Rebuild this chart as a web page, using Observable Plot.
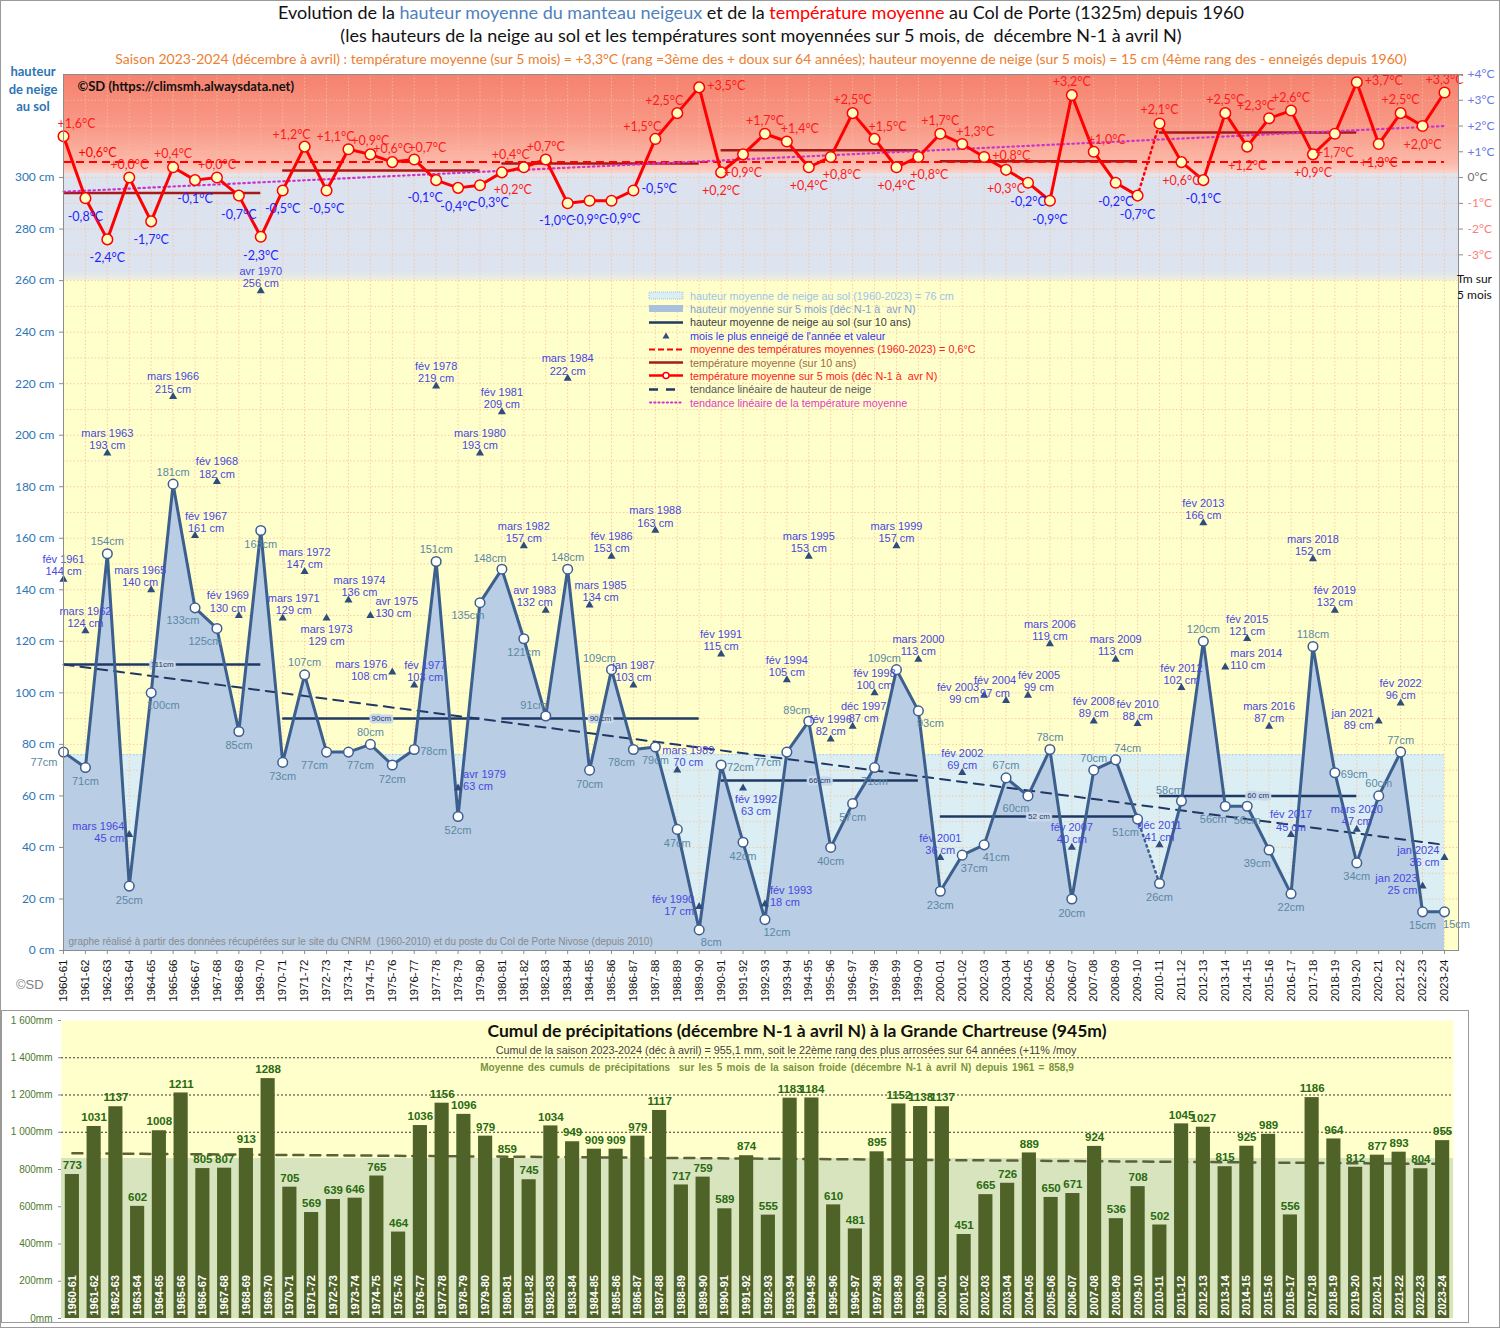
<!DOCTYPE html>
<html><head><meta charset="utf-8">
<script src="https://cdn.jsdelivr.net/npm/d3@7"></script>
<script src="https://cdn.jsdelivr.net/npm/@observablehq/plot@0.6"></script>
<style>
html,body{margin:0;padding:0;background:#fff;overflow:hidden;}
#page{position:relative;width:1500px;height:1328px;overflow:hidden;font-family:"Liberation Sans",Arial,sans-serif;}
.abs{position:absolute;white-space:nowrap;}
.ctr{text-align:center;}
.lato{font-family:Lato,"Open Sans",sans-serif;}
#legend .row{position:absolute;left:0;height:13px;display:flex;align-items:center;font-size:10.8px;}
#legend svg{display:block;margin-right:4px;}
</style></head>
<body><div id="page">
<div class="abs" id="plot1" style="left:0;top:70px;"></div>
<div class="abs" id="plot2" style="left:0;top:1010px;"></div>

<div class="abs" style="left:0;top:0;width:1498px;height:1326px;border:1px solid #9a9a9a;"></div>
<div class="abs" style="left:1px;top:1010px;width:1466px;height:311px;border:1px solid #9a9a9a;"></div>

<div class="abs ctr lato" style="left:22px;width:1478px;top:1px;font-size:18px;color:#111;">Evolution de la <span style="color:#4f81bd">hauteur moyenne du manteau neigeux</span> et de la <span style="color:#ff0000">température moyenne</span> au Col de Porte (1325m) depuis 1960</div>
<div class="abs ctr lato" style="left:22px;width:1478px;top:24px;font-size:18px;color:#111;">(les hauteurs de la neige au sol et les températures sont moyennées sur 5 mois, de&nbsp; décembre N-1 à avril N)</div>
<div class="abs ctr lato" style="left:22px;width:1478px;top:50px;font-size:14px;color:#ed7d31;">Saison 2023-2024 (décembre à avril) : température moyenne (sur 5 mois) = +3,3°C (rang =3ème des + doux sur 64 années); hauteur moyenne de neige (sur 5 mois) = 15 cm (4ème rang des - enneigés depuis 1960)</div>

<div class="abs ctr lato" style="left:0;width:66px;top:63px;font-size:13px;font-weight:bold;color:#2e75b6;line-height:17.5px;">hauteur<br>de neige<br>au sol</div>
<div class="abs lato" style="left:1457px;top:271px;font-size:12px;color:#111;line-height:16px;">Tm sur<br>5 mois</div>
<div class="abs" style="left:16px;top:977px;font-size:13px;color:#7f7f7f;">©SD</div>

<div class="abs" id="legend" style="left:648px;top:289px;width:350px;height:120px;"></div>

<div class="abs ctr lato" style="left:297px;width:1000px;top:1020px;font-size:17.5px;font-weight:bold;color:#111;">Cumul de précipitations (décembre N-1 à avril N) à la Grande Chartreuse (945m)</div>
<div class="abs ctr" style="left:286px;width:1000px;top:1044px;font-size:10.8px;color:#404040;">Cumul de la saison 2023-2024 (déc à avril) = 955,1 mm, soit le 22ème rang des plus arrosées sur 64 années (+11% /moy</div>
<div class="abs ctr" style="left:277px;width:1000px;top:1062px;font-size:10px;font-weight:bold;color:#77933c;word-spacing:1.5px;">Moyenne des cumuls de précipitations&nbsp; sur les 5 mois de la saison froide (décembre N-1 à avril N) depuis 1961 = 858,9</div>
</div>

<script>
// ---------------- DATA ----------------
const seasons = ["1960-61","1961-62","1962-63","1963-64","1964-65","1965-66","1966-67","1967-68","1968-69","1969-70",
"1970-71","1971-72","1972-73","1973-74","1974-75","1975-76","1976-77","1977-78","1978-79","1979-80",
"1980-81","1981-82","1982-83","1983-84","1984-85","1985-86","1986-87","1987-88","1988-89","1989-90",
"1990-91","1991-92","1992-93","1993-94","1994-95","1995-96","1996-97","1997-98","1998-99","1999-00",
"2000-01","2001-02","2002-03","2003-04","2004-05","2005-06","2006-07","2007-08","2008-09","2009-10",
"2010-11","2011-12","2012-13","2013-14","2014-15","2015-16","2016-17","2017-18","2018-19","2019-20",
"2020-21","2021-22","2022-23","2023-24"];

// mean snow depth over 5 months (cm)
const snowMean = [77,71,154,25,100,181,133,125,85,163,
73,107,77,77,80,72,78,151,52,135,
148,121,91,148,70,109,78,79,47,8,
72,42,12,77,89,40,57,71,109,93,
23,37,41,67,60,78,20,70,74,51,
26,58,120,56,56,39,22,118,69,34,
60,77,15,15];

// mean temperature over 5 months (°C)
const tempMean = [1.6,-0.8,-2.4,0.0,-1.7,0.4,-0.1,0.0,-0.7,-2.3,
-0.5,1.2,-0.5,1.1,0.9,0.6,0.7,-0.1,-0.4,-0.3,
0.2,0.4,0.7,-1.0,-0.9,-0.9,-0.5,1.5,2.5,3.5,
0.2,0.9,1.7,1.4,0.4,0.8,2.5,1.5,0.4,0.8,
1.7,1.3,0.8,0.3,-0.2,-0.9,3.2,1.0,-0.2,-0.7,
2.1,0.6,-0.1,2.5,1.2,2.3,2.6,0.9,1.7,3.7,
1.3,2.5,2.0,3.3];

// snowiest month of each season and its value (cm)
const maxMonth = ["fév 1961","mars 1962","mars 1963","mars 1964","mars 1965","mars 1966","fév 1967","fév 1968","fév 1969","avr 1970",
"mars 1971","mars 1972","mars 1973","mars 1974","avr 1975","mars 1976","fév 1977","fév 1978","avr 1979","mars 1980",
"fév 1981","mars 1982","avr 1983","mars 1984","mars 1985","fév 1986","jan 1987","mars 1988","mars 1989","fév 1990",
"fév 1991","fév 1992","fév 1993","fév 1994","mars 1995","fév 1996","déc 1997","fév 1998","mars 1999","mars 2000",
"fév 2001","fév 2002","fév 2003","fév 2004","fév 2005","mars 2006","fév 2007","fév 2008","mars 2009","fév 2010",
"déc 2011","fév 2012","fév 2013","mars 2014","fév 2015","mars 2016","fév 2017","mars 2018","fév 2019","mars 2020",
"jan 2021","fév 2022","jan 2023","jan 2024"];
const maxSnow = [144,124,193,45,140,215,161,182,130,256,
129,147,129,136,130,108,103,219,63,193,
209,157,132,222,134,153,103,163,70,17,
115,63,18,105,153,82,87,100,157,113,
36,69,99,97,99,119,40,89,113,88,
41,102,166,110,121,87,45,152,132,47,
89,96,25,36];

// precipitation totals Dec-Apr (mm)
const precip = [773,1031,1137,602,1008,1211,805,807,913,1288,
705,569,639,646,765,464,1036,1156,1096,979,
859,745,1034,949,909,909,979,1117,717,759,
589,874,555,1183,1184,610,481,895,1152,1138,
1137,451,665,726,889,650,671,924,536,708,
502,1045,1027,815,925,989,556,1186,964,812,
877,893,804,955];

// decade means
const decadeFirst = ["1960-61","1970-71","1980-81","1990-91","2000-01","2010-11"];
const decadeLast  = ["1969-70","1979-80","1989-90","1999-00","2009-10","2019-20"];
const snowDecade = [111,90,90,66,52,60];
const snowDecadeLabel = ["111cm","90cm","90 cm","66 cm","52 cm","60 cm"];
const tempDecade = [-0.6,0.27,0.55,1.06,0.63,1.75];

// reference values
const meanSnow = 76;
const meanTemp = 0.6;
const meanPrecip = 858.9;
const snowTrendEnds = [111, 41];
const tempTrendEnds = [-0.55, 2.0];
const precipTrendEnds = [887, 830];

// axis ticks
const snowTicks = d3.range(0, 301, 20);
const tempTicksPos = [1, 2, 3, 4];
const tempTicksZero = [0];
const tempTicksNeg = [-1, -2, -3];
const precipTicks = [0,200,400,600,800,1000,1200,1400,1600];
const gridCm = d3.range(0, 341, 10);

// ---------------- LABEL PLACEMENT (layout, one code per season) ----------------
// a above, b below, L/R above-left/right, K/B below-left/right, l/r to the left/right
const tempPlace = ("Rbbabababb" + "bLbLaaRKbB" + "BLaKbBrLLr" + "bbaRbBaRbB" + "aRrbbbaRbb" + "abbabLabbr" + "baba").split("");
const snowPlace = ("lbabBaKKbb" + "baKBabrabK" + "LbLabLKbbB" + "rbBlLbbbLB" + "bBBaKabaRK" + "bLaKbKbarb" + "aabB").split("");
const maxPlace  = ("aaalLaRaLa" + "RabRrlRara" + "aaLaRaaaRl" + "aBraaaRaaa" + "aalLRaaaaa" + "aaaraaaaaa" + "lall").split("");

const TEMP_OFF = {a:[0,-13,"middle"], b:[0,19,"middle"], R:[13,-12,"middle"], L:[-13,-12,"middle"], B:[11,18,"middle"], K:[-11,18,"middle"], r:[8,-1,"start"], l:[-8,-1,"end"]};
const SNOW_OFF = {a:[0,-12,"middle"], b:[0,14,"middle"], R:[12,-11,"middle"], L:[-12,-11,"middle"], B:[12,13,"middle"], K:[-12,13,"middle"], r:[6,2,"start"], l:[-6,10,"end"]};
const MAX_OFF  = {a:[0,-4,"middle","bottom"], L:[-11,-4,"middle","bottom"], R:[11,-4,"middle","bottom"], l:[-5,-2,"end","middle"], r:[5,-8,"start","middle"], b:[0,6,"middle","top"], B:[13,6,"middle","top"]};

// ---------------- HELPERS ----------------
const toCm = t => 300 + 10 * t;   // right axis: 1°C = 10 cm, 0°C = 300 cm
const N = seasons.length;
const rows = seasons.map((s, i) => ({i, season: s, snow: snowMean[i], temp: tempMean[i], month: maxMonth[i], max: maxSnow[i], precip: precip[i]}));
const tLab = t => (t >= 0 ? "+" : "-") + Math.abs(t).toFixed(1).replace(".", ",") + "°C";
const decRows = decadeFirst.map((f, k) => ({x1: seasons.indexOf(f), x2: seasons.indexOf(decadeLast[k]), snow: snowDecade[k], temp: tempDecade[k], lab: snowDecadeLabel[k]}));
const gapIdx = seasons.indexOf("2009-10");
const XMAX = 63.64;

const SNOW = "#3c5f8e", NAVY = "#1f3864", RED = "#ff0000", DARKRED = "#a51a1a";
const LATO = "Lato, 'Open Sans', sans-serif";
const ARIAL = "'Liberation Sans', Arial, sans-serif";

const segA = rows.slice(0, gapIdx + 1), segGap = rows.slice(gapIdx, gapIdx + 2), segB = rows.slice(gapIdx + 1);

const tempLabelMarks = [];
for (const [code, [dx, dy, ta]] of Object.entries(TEMP_OFF)) {
  for (const pos of [true, false]) {
    const sel = rows.filter(d => tempPlace[d.i] === code && (d.temp >= 0) === pos);
    if (!sel.length) continue;
    tempLabelMarks.push(Plot.text(sel, {x: "i", y: d => toCm(d.temp), text: d => tLab(d.temp), dx, dy, textAnchor: ta,
      fill: pos ? "#ff1a1a" : "#1f1fff", fontSize: 12.5, fontFamily: LATO}));
  }
}
const snowLabelMarks = Object.entries(SNOW_OFF).map(([code, [dx, dy, ta]]) =>
  Plot.text(rows.filter(d => snowPlace[d.i] === code), {x: "i", y: "snow", text: d => d.snow + "cm", dx, dy, textAnchor: ta, fill: "#5b88a3", fontSize: 11}));
const maxLabelMarks = Object.entries(MAX_OFF).map(([code, [dx, dy, ta, la]]) =>
  Plot.text(rows.filter(d => maxPlace[d.i] === code), {x: "i", y: "max", text: d => d.month + "\n" + d.max + " cm", dx, dy, textAnchor: ta, lineAnchor: la, fill: "#4848e0", fontSize: 11, lineHeight: 1.1}));

// ---------------- TOP CHART ----------------
const p1 = Plot.plot({
  width: 1500, height: 940,
  marginTop: 4, marginBottom: 60, marginLeft: 63, marginRight: 42,
  x: {type: "linear", domain: [0, XMAX], label: null},
  y: {domain: [0, 340], label: null},
  style: {fontFamily: ARIAL, fontSize: "11px", background: "transparent", overflow: "visible"},
  marks: [
    // background zones
    Plot.rect([0], {x1: 0, x2: XMAX, y1: 0, y2: 260, fill: "#ffffcc"}),
    Plot.rect([0], {x1: 0, x2: XMAX, y1: 260, y2: 302, fill: "url(#bluegrad)"}),
    Plot.rect([0], {x1: 0, x2: XMAX, y1: 301.5, y2: 340, fill: "url(#redgrad)"}),
    Plot.rect([meanSnow], {x1: 0, x2: N - 1, y1: 0, y2: d => d, fill: "#daeef3"}),
    Plot.ruleY([meanSnow], {x1: 0, x2: N - 1, stroke: "#9dc3e6", strokeDasharray: "1.5,2"}),
    // grid
    Plot.ruleY(gridCm, {stroke: "#f6c09c", strokeOpacity: 0.8, strokeDasharray: "1.5,2"}),
    Plot.ruleX(d3.range(N), {stroke: "#f6c09c", strokeOpacity: 0.8, strokeDasharray: "1.5,2"}),
    // snow area
    Plot.areaY(rows, {x: "i", y: "snow", fill: "#b9cde5"}),
    // decade snow means
    Plot.ruleY(decRows, {y: "snow", x1: "x1", x2: "x2", stroke: NAVY, strokeWidth: 2.5}),
    Plot.text(decRows, {x: d => (d.x1 + d.x2) / 2, y: "snow", text: "lab", fontSize: 8, fill: NAVY, stroke: "#c9d8ea", strokeWidth: 5, paintOrder: "stroke"}),
    // snow trend
    Plot.line([{i: 0, v: snowTrendEnds[0]}, {i: N - 1, v: snowTrendEnds[1]}], {x: "i", y: "v", stroke: NAVY, strokeWidth: 2, strokeDasharray: "10,7"}),
    // snow line
    Plot.line(segA, {x: "i", y: "snow", stroke: SNOW, strokeWidth: 3}),
    Plot.line(segGap, {x: "i", y: "snow", stroke: SNOW, strokeWidth: 2.5, strokeDasharray: "1.5,4", strokeLinecap: "round"}),
    Plot.line(segB, {x: "i", y: "snow", stroke: SNOW, strokeWidth: 3}),
    Plot.dot(rows, {x: "i", y: "snow", r: 4.8, fill: "white", stroke: SNOW, strokeWidth: 1.5}),
    ...snowLabelMarks,
    // snowiest month
    Plot.dot(rows, {x: "i", y: "max", symbol: "triangle", r: 3, fill: "#2f4d7c"}),
    ...maxLabelMarks,
    // temperature
    Plot.ruleY(decRows, {y: d => toCm(d.temp), x1: "x1", x2: "x2", stroke: DARKRED, strokeWidth: 2.5}),
    Plot.ruleY([meanTemp], {y: d => toCm(d), x1: 0, x2: N - 1, stroke: RED, strokeWidth: 2, strokeDasharray: "8,5"}),
    Plot.text([meanTemp], {x: 1.55, y: d => toCm(d), text: d => tLab(d), dy: -9, fill: RED, fontSize: 12.5, fontFamily: LATO}),
    Plot.line([{i: 0, v: tempTrendEnds[0]}, {i: N - 1, v: tempTrendEnds[1]}], {x: "i", y: d => toCm(d.v), stroke: "#cc33cc", strokeWidth: 2.2, strokeDasharray: "1.5,3.5", strokeLinecap: "round"}),
    Plot.line(segA, {x: "i", y: d => toCm(d.temp), stroke: RED, strokeWidth: 3}),
    Plot.line(segGap, {x: "i", y: d => toCm(d.temp), stroke: RED, strokeWidth: 2.5, strokeDasharray: "1.5,4", strokeLinecap: "round"}),
    Plot.line(segB, {x: "i", y: d => toCm(d.temp), stroke: RED, strokeWidth: 3}),
    Plot.dot(rows, {x: "i", y: d => toCm(d.temp), r: 5.3, fill: "#ffffc0", stroke: RED, strokeWidth: 1.5}),
    ...tempLabelMarks,
    // annotations
    Plot.text(["©SD (https://climsmh.alwaysdata.net)"], {text: d => d, frameAnchor: "top-left", textAnchor: "start", lineAnchor: "top", dx: 14, dy: 7, fontSize: 13, fontWeight: "bold", fontFamily: LATO, fill: "#111"}),
    Plot.text(["graphe réalisé à partir des données récupérées sur le site du CNRM  (1960-2010) et du poste du Col de Porte Nivose (depuis 2010)"], {text: d => d, frameAnchor: "bottom-left", textAnchor: "start", lineAnchor: "bottom", dx: 5, dy: -6, fontSize: 10, fill: "#8a8a8a"}),
    // axes
    Plot.frame({stroke: "#8c8c8c"}),
    Plot.axisY({ticks: snowTicks, anchor: "left", tickFormat: d => d + " cm", fill: "#2e75b6", stroke: "#8c8c8c", tickSize: 4, fontSize: 12, fontFamily: LATO, label: null}),
    Plot.axisY({ticks: tempTicksPos.map(toCm), anchor: "right", tickFormat: v => "+" + Math.round((v - 300) / 10) + "°C", fill: "#6b78e6", stroke: "#8c8c8c", tickSize: 4, fontSize: 12, fontFamily: LATO, label: null}),
    Plot.axisY({ticks: tempTicksZero.map(toCm), anchor: "right", tickFormat: v => "0°C", fill: "#707070", stroke: "#8c8c8c", tickSize: 4, fontSize: 12, fontFamily: LATO, label: null}),
    Plot.axisY({ticks: tempTicksNeg.map(toCm), anchor: "right", tickFormat: v => Math.round((v - 300) / 10) + "°C", fill: "#ff7b7b", stroke: "#8c8c8c", tickSize: 4, fontSize: 12, fontFamily: LATO, label: null}),
    Plot.axisX({ticks: d3.range(N), tickFormat: i => seasons[i], tickRotate: -90, tickSize: 4, fontSize: 11.5, fill: "#111", stroke: "#8c8c8c", label: null})
  ]
});
const defs1 = document.createElementNS("http://www.w3.org/2000/svg", "defs");
defs1.innerHTML = `<linearGradient id="redgrad" x1="0" y1="0" x2="0" y2="1">
<stop offset="0" stop-color="#f5826e"/><stop offset="0.55" stop-color="#f99a88"/><stop offset="0.9" stop-color="#fcb9aa"/><stop offset="1" stop-color="#fdd3c9"/></linearGradient>
<linearGradient id="bluegrad" x1="0" y1="0" x2="0" y2="1">
<stop offset="0" stop-color="#e2e6ef"/><stop offset="0.08" stop-color="#dce3ef"/><stop offset="0.92" stop-color="#dde4ef"/><stop offset="1" stop-color="#eef0dc"/></linearGradient>`;
p1.insertBefore(defs1, p1.firstChild);
document.getElementById("plot1").appendChild(p1);

// ---------------- BOTTOM CHART ----------------
const p2 = Plot.plot({
  width: 1500, height: 318,
  marginTop: 10, marginBottom: 10, marginLeft: 61, marginRight: 47,
  x: {type: "band", domain: seasons, paddingInner: 0.35, paddingOuter: 0.175, axis: null},
  y: {domain: [0, 1600], label: null},
  style: {fontFamily: ARIAL, fontSize: "10px", background: "transparent", overflow: "visible"},
  marks: [
    Plot.frame({fill: "#ffffcc", stroke: null}),
    Plot.rect([meanPrecip], {y1: 0, y2: d => d, fill: "#d7e4bd"}),
    Plot.ruleY([1000, 1200, 1400], {stroke: "#222", strokeWidth: 0.9, strokeDasharray: "2,2"}),
    Plot.line([{s: seasons[0], v: precipTrendEnds[0]}, {s: seasons[N - 1], v: precipTrendEnds[1]}], {x: "s", y: "v", stroke: "#5b6238", strokeWidth: 2.5, strokeDasharray: "10,7"}),
    Plot.barY(rows, {x: "season", y: "precip", fill: "#4f6228"}),
    Plot.text(rows, {x: "season", y: "precip", text: d => String(d.precip), dy: -9, fill: "#2a6a12", fontWeight: "bold", fontSize: 11.5, fontFamily: "'Liberation Sans Narrow', 'Liberation Sans', Arial, sans-serif"}),
    Plot.text(rows, {x: "season", y: 0, text: "season", rotate: -90, textAnchor: "start", dy: -3, fill: "white", fontWeight: "bold", fontSize: 11}),
    Plot.axisY({ticks: precipTicks, anchor: "left", tickFormat: d => d >= 1000 ? Math.floor(d / 1000) + " " + String(d % 1000).padStart(3, "0") + "mm" : d + "mm", fill: "#4e7a2e", stroke: "#8c8c8c", tickSize: 3, fontSize: 10, label: null})
  ]
});
document.getElementById("plot2").appendChild(p2);

// ---------------- LEGEND ----------------
const legendItems = [
  {k: "meanrect", label: "hauteur moyenne de neige au sol (1960-2023) = 76 cm", color: "#9dc3e6"},
  {k: "area", label: "hauteur moyenne sur 5 mois (déc N-1 à&nbsp; avr N)", color: "#7f9fd0"},
  {k: "navyline", label: "hauteur moyenne de neige au sol (sur 10 ans)", color: "#404040"},
  {k: "tri", label: "mois le plus enneigé de l'année et valeur", color: "#3535f0"},
  {k: "reddash", label: "moyenne des températures moyennes (1960-2023) = 0,6°C", color: "#ff2020"},
  {k: "darkred", label: "température moyenne (sur 10 ans)", color: "#9b6b43"},
  {k: "redmark", label: "température moyenne sur 5 mois (déc N-1 à&nbsp; avr N)", color: "#ff2020"},
  {k: "navydash", label: "tendance linéaire de hauteur de neige", color: "#595959"},
  {k: "magdot", label: "tendance linéaire de la température moyenne", color: "#e040c8"}
];
const sw = {
  meanrect: `<rect x="1" y="2" width="34" height="7" fill="#daeef3" stroke="#9dc3e6" stroke-dasharray="1,1"/>`,
  area: `<rect x="1" y="2" width="34" height="7" fill="#a9c0df"/>`,
  navyline: `<line x1="1" x2="35" y1="5.5" y2="5.5" stroke="${NAVY}" stroke-width="2.5"/>`,
  tri: `<path d="M18,2.5 L21.5,8.5 L14.5,8.5 Z" fill="#2f4d7c"/>`,
  reddash: `<line x1="1" x2="35" y1="5.5" y2="5.5" stroke="${RED}" stroke-width="2" stroke-dasharray="6,3"/>`,
  darkred: `<line x1="1" x2="35" y1="5.5" y2="5.5" stroke="${DARKRED}" stroke-width="2.5"/>`,
  redmark: `<line x1="1" x2="35" y1="5.5" y2="5.5" stroke="${RED}" stroke-width="2.5"/><circle cx="18" cy="5.5" r="3" fill="white" stroke="${RED}" stroke-width="1.5"/>`,
  navydash: `<line x1="1" x2="35" y1="5.5" y2="5.5" stroke="${NAVY}" stroke-width="2.5" stroke-dasharray="9,8"/>`,
  magdot: `<line x1="2" x2="35" y1="5.5" y2="5.5" stroke="#cc33cc" stroke-width="2" stroke-dasharray="1.2,3" stroke-linecap="round"/>`
};
const legend = document.getElementById("legend");
legendItems.forEach((it, k) => {
  const r = document.createElement("div");
  r.className = "row";
  r.style.top = (k * 13.4) + "px";
  r.innerHTML = `<svg width="38" height="11">${sw[it.k]}</svg><span style="color:${it.color}">${it.label}</span>`;
  legend.appendChild(r);
});
</script>
</body></html>
